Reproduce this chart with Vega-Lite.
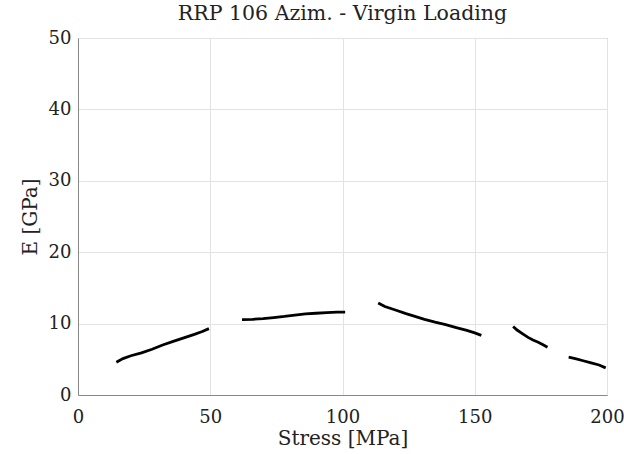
{
  "$schema": "https://vega.github.io/schema/vega-lite/v6.json",
  "width": 529,
  "height": 357,
  "autosize": "none",
  "padding": {"left": 78, "top": 38, "right": 17, "bottom": 59},
  "background": "white",
  "title": {"text": "RRP 106 Azim. - Virgin Loading", "font": "DejaVu Serif", "fontSize": 20.5, "fontWeight": "normal", "color": "#222", "offset": 5},
  "config": {
    "view": {"stroke": "#999", "strokeWidth": 1},
    "axis": {"labelFont": "DejaVu Serif", "titleFont": "DejaVu Serif", "labelFontSize": 18, "titleFontSize": 20, "titleFontWeight": "normal", "labelColor": "#222", "titleColor": "#222", "gridColor": "#e3e3e3", "domainColor": "#888", "tickSize": 0, "labelPadding": 7, "labelFlush": false, "labelOverlap": false}
  },
  "data": {"values": [
    {"s": 1, "x": 14.5, "y": 4.6}, {"s": 1, "x": 17, "y": 5.1}, {"s": 1, "x": 20, "y": 5.5}, {"s": 1, "x": 24, "y": 5.9}, {"s": 1, "x": 28, "y": 6.4}, {"s": 1, "x": 32, "y": 7.0}, {"s": 1, "x": 36, "y": 7.5}, {"s": 1, "x": 40, "y": 8.0}, {"s": 1, "x": 44, "y": 8.5}, {"s": 1, "x": 47, "y": 8.9}, {"s": 1, "x": 49.5, "y": 9.3},
    {"s": 2, "x": 62, "y": 10.55}, {"s": 2, "x": 66, "y": 10.6}, {"s": 2, "x": 70, "y": 10.7}, {"s": 2, "x": 74, "y": 10.85}, {"s": 2, "x": 78, "y": 11.0}, {"s": 2, "x": 82, "y": 11.2}, {"s": 2, "x": 86, "y": 11.35}, {"s": 2, "x": 90, "y": 11.45}, {"s": 2, "x": 94, "y": 11.55}, {"s": 2, "x": 98, "y": 11.6}, {"s": 2, "x": 101, "y": 11.6},
    {"s": 3, "x": 113.5, "y": 12.9}, {"s": 3, "x": 116, "y": 12.4}, {"s": 3, "x": 120, "y": 11.9}, {"s": 3, "x": 124, "y": 11.4}, {"s": 3, "x": 128, "y": 10.95}, {"s": 3, "x": 131, "y": 10.6}, {"s": 3, "x": 135, "y": 10.2}, {"s": 3, "x": 139, "y": 9.85}, {"s": 3, "x": 143, "y": 9.45}, {"s": 3, "x": 147, "y": 9.05}, {"s": 3, "x": 150, "y": 8.7}, {"s": 3, "x": 152.5, "y": 8.35},
    {"s": 4, "x": 164.5, "y": 9.6}, {"s": 4, "x": 166, "y": 9.1}, {"s": 4, "x": 168, "y": 8.6}, {"s": 4, "x": 170, "y": 8.1}, {"s": 4, "x": 172, "y": 7.7}, {"s": 4, "x": 174, "y": 7.4}, {"s": 4, "x": 176, "y": 7.0}, {"s": 4, "x": 177.5, "y": 6.7},
    {"s": 5, "x": 185.5, "y": 5.3}, {"s": 5, "x": 188, "y": 5.1}, {"s": 5, "x": 191, "y": 4.8}, {"s": 5, "x": 194, "y": 4.5}, {"s": 5, "x": 197, "y": 4.2}, {"s": 5, "x": 199.5, "y": 3.8}
  ]},
  "mark": {"type": "line", "color": "black", "strokeWidth": 2.8},
  "encoding": {
    "x": {"field": "x", "type": "quantitative", "scale": {"domain": [0, 200], "nice": false}, "axis": {"values": [0, 50, 100, 150, 200], "title": "Stress [MPa]", "titlePadding": 2, "labelPadding": 13}},
    "y": {"field": "y", "type": "quantitative", "scale": {"domain": [0, 50], "nice": false}, "axis": {"values": [0, 10, 20, 30, 40, 50], "title": "E [GPa]", "titlePadding": 8}},
    "detail": {"field": "s", "type": "nominal"}
  }
}
